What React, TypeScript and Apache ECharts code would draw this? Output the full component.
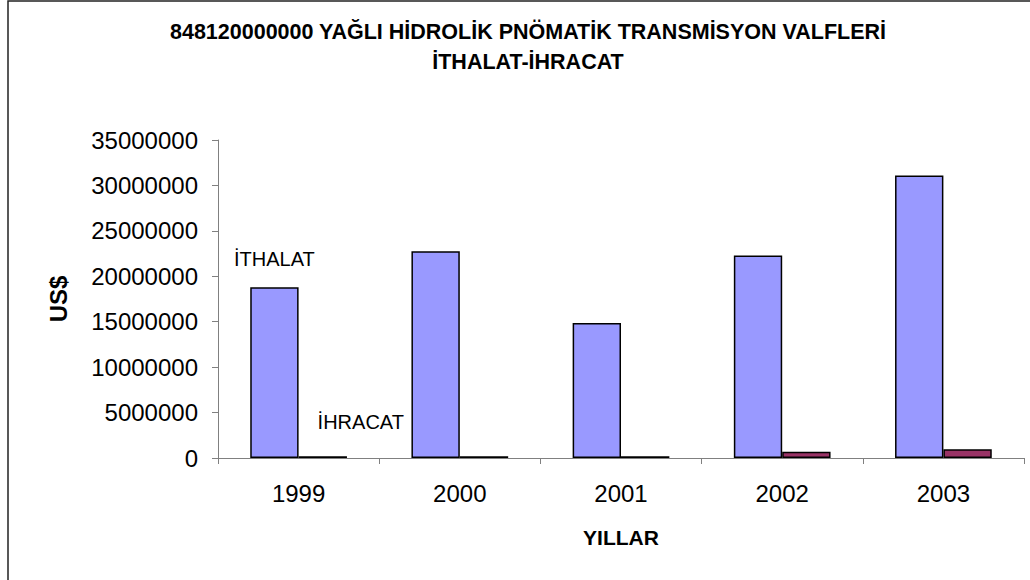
import React, { useEffect, useRef } from "react";
import * as echarts from "echarts";

const years = ["1999", "2000", "2001", "2002", "2003"];
const ithalat = [18800000, 22750000, 14850000, 22300000, 31100000];
const ihracat = [200000, 200000, 200000, 700000, 950000];
const titleLines = ["848120000000 YAĞLI HİDROLİK PNÖMATİK TRANSMİSYON VALFLERİ", "İTHALAT-İHRACAT"];
const seriesNames = ["İTHALAT", "İHRACAT"];
const FONT = "'Liberation Sans', Arial, sans-serif";

export default function App() {
  const ref = useRef<HTMLDivElement>(null);
  useEffect(() => {
    if (!ref.current) return;
    const chart = echarts.init(ref.current, null, { renderer: "svg" });
    chart.setOption({
      animation: false,
      backgroundColor: "#ffffff",
      textStyle: { fontFamily: FONT },
      title: {
        text: titleLines.join("\n"),
        left: 528,
        textAlign: "center",
        top: 17,
        padding: 0,
        textStyle: { fontFamily: FONT, fontSize: 21.5, fontWeight: "bold", color: "#000", lineHeight: 30 },
      },
      graphic: [
        {
          type: "rect",
          shape: { x: 8, y: 1, width: 1100, height: 700 },
          style: { fill: "none", stroke: "#222", lineWidth: 1.5 },
          z: 100,
        },
      ],
      grid: { left: 218, right: 6, top: 140, bottom: 122 },
      xAxis: {
        type: "category",
        data: years,
        name: "YILLAR",
        nameLocation: "middle",
        nameGap: 69,
        nameTextStyle: { fontFamily: FONT, fontSize: 21, fontWeight: "bold", color: "#000" },
        axisLine: { lineStyle: { color: "#808080", width: 1 } },
        axisTick: { show: true, length: 6, lineStyle: { color: "#808080" } },
        axisLabel: { fontFamily: FONT, fontSize: 24, color: "#000", margin: 23 },
      },
      yAxis: {
        type: "value",
        min: 0,
        max: 35000000,
        interval: 5000000,
        name: "US$",
        nameLocation: "middle",
        nameGap: 148,
        nameTextStyle: { fontFamily: FONT, fontSize: 24, fontWeight: "bold", color: "#000" },
        splitLine: { show: false },
        axisLine: { show: true, lineStyle: { color: "#808080", width: 1 } },
        axisTick: { show: true, length: 6, lineStyle: { color: "#808080" } },
        axisLabel: {
          fontFamily: FONT,
          fontSize: 24,
          color: "#000",
          margin: 20,
          formatter: (v: number) => String(v),
        },
      },
      series: [
        {
          name: seriesNames[0],
          type: "bar",
          barGap: "0%",
          barCategoryGap: "40%",
          itemStyle: { color: "#9999FF", borderColor: "#000", borderWidth: 1.5 },
          data: ithalat.map((v, i) =>
            i === 0
              ? {
                  value: v,
                  label: {
                    show: true,
                    position: "top",
                    distance: 18,
                    formatter: seriesNames[0],
                    fontFamily: FONT,
                    fontSize: 20,
                    color: "#000",
                  },
                }
              : v
          ),
        },
        {
          name: seriesNames[1],
          type: "bar",
          barGap: "0%",
          barCategoryGap: "40%",
          itemStyle: { color: "#993366", borderColor: "#000", borderWidth: 1.5 },
          data: ihracat.map((v, i) =>
            i === 0
              ? {
                  value: v,
                  label: {
                    show: true,
                    position: "top",
                    distance: 24,
                    offset: [38, 0],
                    formatter: seriesNames[1],
                    fontFamily: FONT,
                    fontSize: 20,
                    color: "#000",
                  },
                }
              : v
          ),
        },
      ],
    });
    return () => chart.dispose();
  }, []);
  return (
    <div
      ref={ref}
      style={{ position: "absolute", left: 0, top: 0, width: 1030, height: 580 }}
    />
  );
}
